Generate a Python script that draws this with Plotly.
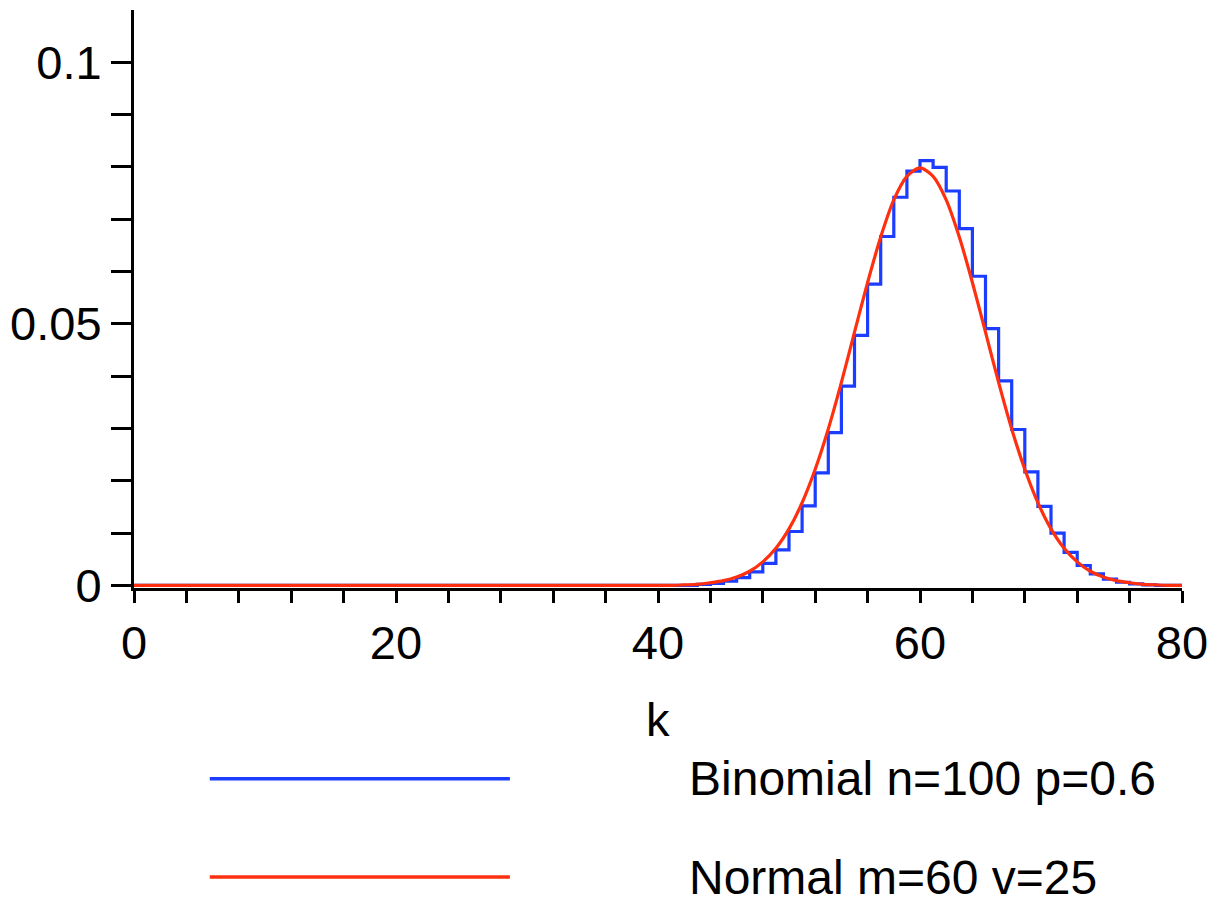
import plotly.graph_objects as go

# ---- data ----
k_values = list(range(0, 81))
binomial_pmf = [
    0, 0, 0, 0, 0, 0, 0, 0, 0, 0,
    0, 0, 0, 0, 0, 0, 0, 0, 0, 0,
    0, 0, 0, 0, 0, 0, 0, 0, 0, 0,
    0, 0, 0, 0, 0, 0, 0, 0, 0, 0,
    0, 0, 0, 0.0002, 0.0004, 0.0008, 0.0015, 0.0026, 0.0042, 0.0068,
    0.0103, 0.0152, 0.0215, 0.0292, 0.0381, 0.0478, 0.0576, 0.0667, 0.0742, 0.0792,
    0.0812, 0.0799, 0.0754, 0.0682, 0.0591, 0.0491, 0.0391, 0.0298, 0.0217, 0.0151,
    0.0100, 0.0063, 0.0038, 0.0022, 0.0012, 0.0006, 0.0003, 0.0001, 0, 0,
    0,
]

normal_x = list(range(0, 81))
normal_pdf = [
    0, 0, 0, 0, 0, 0, 0, 0, 0, 0,
    0, 0, 0, 0, 0, 0, 0, 0, 0, 0,
    0, 0, 0, 0, 0, 0, 0, 0, 0, 0,
    0, 0, 0, 0, 0, 0, 0, 0, 0, 0,
    0, 0, 0.0001, 0.0002, 0.0005, 0.0009, 0.0016, 0.0027, 0.0045, 0.0071,
    0.0108, 0.0158, 0.0222, 0.0299, 0.0388, 0.0484, 0.0579, 0.0666, 0.0737, 0.0782,
    0.0798, 0.0782, 0.0737, 0.0666, 0.0579, 0.0484, 0.0388, 0.0299, 0.0222, 0.0158,
    0.0108, 0.0071, 0.0045, 0.0027, 0.0016, 0.0009, 0.0005, 0.0002, 0.0001, 0,
    0,
]

x_tick_vals = list(range(0, 81, 4))
x_tick_text = ["0", "", "", "", "", "20", "", "", "", "", "40", "", "", "", "",
               "60", "", "", "", "", "80"]
y_tick_vals = [0, 0.01, 0.02, 0.03, 0.04, 0.05, 0.06, 0.07, 0.08, 0.09, 0.1]
y_tick_text = ["0", "", "", "", "", "0.05", "", "", "", "", "0.1"]

series_names = ["Binomial n=100 p=0.6", "Normal m=60 v=25"]
x_label = "k"

BLUE = "#1a3dff"
RED = "#ff3010"
FONT = "Liberation Sans"

fig = go.Figure()
fig.add_trace(go.Scatter(
    x=k_values, y=binomial_pmf, mode="lines", name=series_names[0],
    line=dict(color=BLUE, width=3.2, shape="hv"),
))
fig.add_trace(go.Scatter(
    x=normal_x, y=normal_pdf, mode="lines", name=series_names[1],
    line=dict(color=RED, width=3.2, shape="spline", smoothing=0.8),
))

fig.update_layout(
    width=1218, height=903,
    margin=dict(l=133, r=34, t=10, b=315),
    paper_bgcolor="white", plot_bgcolor="white",
    showlegend=False,
    font=dict(family=FONT, size=47, color="black"),
    xaxis=dict(
        range=[0, 80], tickmode="array", tickvals=x_tick_vals, ticktext=x_tick_text,
        ticks="outside", ticklen=12, tickwidth=3, tickcolor="black",
        showline=True, linewidth=3, linecolor="black",
        showgrid=False, zeroline=False, layer="below traces",
        tickfont=dict(family=FONT, size=47, color="black"),
        ticklabelstandoff=0,
    ),
    yaxis=dict(
        range=[-0.0005, 0.11], tickmode="array", tickvals=y_tick_vals, ticktext=y_tick_text,
        ticks="outside", ticklen=20, tickwidth=3, tickcolor="black",
        showline=True, linewidth=3, linecolor="black",
        showgrid=False, zeroline=False, layer="below traces",
        tickfont=dict(family=FONT, size=47, color="black"),
    ),
)

# axis label
fig.add_annotation(text=x_label, xref="paper", yref="paper", x=0.5, y=-0.228,
                   xanchor="center", yanchor="middle", showarrow=False,
                   font=dict(family=FONT, size=47, color="black"))

# legend drawn below the plot (long line samples like the reference)
legend_y = [-0.33, -0.5]
legend_colors = [BLUE, RED]
for name, col, ly in zip(series_names, legend_colors, legend_y):
    fig.add_shape(type="line", xref="paper", yref="paper",
                  x0=0.0723, x1=0.3587, y0=ly, y1=ly,
                  line=dict(color=col, width=3.5))
    fig.add_annotation(text=name, xref="paper", yref="paper", x=0.528, y=ly,
                       xanchor="left", yanchor="middle", showarrow=False,
                       font=dict(family=FONT, size=48, color="black"))

fig.write_html("out.html")
